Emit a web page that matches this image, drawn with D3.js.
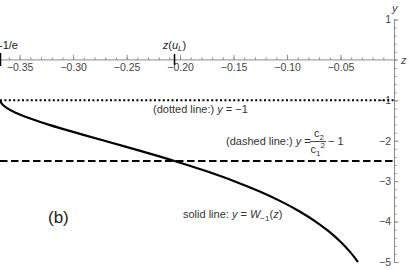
<!DOCTYPE html>
<html>
<head>
<meta charset="utf-8">
<script src="https://cdn.jsdelivr.net/npm/d3@7"></script>
<style>
  body { margin: 0; background: #fff; }
  svg { font-family: "Liberation Sans", Arial, sans-serif; }
  .axis path, .axis line { stroke: #8c8c8c; }
  .axis text { fill: #444; font-size: 10.5px; font-family: "Liberation Sans", Arial, sans-serif; }
  .note { fill: #333; font-size: 11px; }
</style>
</head>
<body>
<div id="chart"></div>
<script>
var width = 409,
    height = 270;

// lower branch W_-1 : points (z, y)
var curveZ = [-0.36788, -0.36780, -0.36744, -0.36616, -0.36143, -0.35429, -0.34524, -0.33470, -0.32304,
  -0.29754, -0.27067, -0.23715, -0.20521, -0.17580, -0.14936, -0.12602, -0.10569, -0.08819,
  -0.07326, -0.06062, -0.04999, -0.04110, -0.03369];
var curveY = [-1, -1.02, -1.05, -1.1, -1.2, -1.3, -1.4, -1.5, -1.6,
  -1.8, -2.0, -2.25, -2.5, -2.75, -3.0, -3.25, -3.5, -3.75,
  -4.0, -4.25, -4.5, -4.75, -5.0];

var xTicks = [-0.35, -0.30, -0.25, -0.20, -0.15, -0.10, -0.05];
var xMinor = d3.range(-36, 0).map(function(i) { return i / 100; });
var yTicks = [1, -1, -2, -3, -4, -5];
var yMinor = d3.range(-25, 6).map(function(i) { return i / 5; });

var zMin = -1 / Math.E;   // branch point
var zUL = -0.2052;        // z(u_L)
var dottedY = -1;
var dashedY = -2.5;       // c2/c1^2 - 1

var svg = d3.select("#chart")
  .append("svg")
  .attr("width", width)
  .attr("height", height);

var xScale = d3.scaleLinear()
  .domain([zMin, 0])
  .range([0.5, 394]);

var yScale = d3.scaleLinear()
  .domain([1, -5])
  .range([19.5, 262]);

//x axis (ticks pointing up, labels below)
svg.append("g")
  .attr("class", "axis")
  .attr("transform", "translate(0," + yScale(0) + ")")
  .call(d3.axisBottom(xScale).tickValues(xMinor).tickSize(-2.5).tickSizeOuter(0).tickFormat(""))
  .call(function(g) { g.select(".domain").remove(); });

svg.append("g")
  .attr("class", "axis")
  .attr("transform", "translate(0," + yScale(0) + ")")
  .call(d3.axisBottom(xScale).tickValues(xTicks).tickSize(-5).tickSizeOuter(0).tickPadding(4)
    .tickFormat(d3.format(".2f")))
  .call(function(g) { g.select(".domain").attr("d", "M0,0H398"); });

//y axis (ticks pointing right, labels left)
svg.append("g")
  .attr("class", "axis")
  .attr("transform", "translate(" + xScale(0) + ",0)")
  .call(d3.axisLeft(yScale).tickValues(yMinor).tickSize(-2.5).tickSizeOuter(0).tickFormat(""))
  .call(function(g) { g.select(".domain").remove(); });

svg.append("g")
  .attr("class", "axis")
  .attr("transform", "translate(" + xScale(0) + ",0)")
  .call(d3.axisLeft(yScale).tickValues(yTicks).tickSize(-4.5).tickSizeOuter(0).tickPadding(3)
    .tickFormat(d3.format("d")));

//axis names
svg.append("text")
  .attr("x", xScale(0) + 7)
  .attr("y", yScale(0) + 4)
  .attr("font-style", "italic")
  .attr("font-size", 11)
  .attr("fill", "#444")
  .text("z");

svg.append("text")
  .attr("x", xScale(0) - 2)
  .attr("y", 12)
  .attr("font-style", "italic")
  .attr("font-size", 11)
  .attr("fill", "#444")
  .text("y");

//special ticks
svg.append("line")
  .attr("x1", xScale(zMin)).attr("x2", xScale(zMin))
  .attr("y1", yScale(0) - 7).attr("y2", yScale(0) + 6)
  .attr("stroke", "#000").attr("stroke-width", 1.5);

svg.append("line")
  .attr("x1", xScale(zUL)).attr("x2", xScale(zUL))
  .attr("y1", yScale(0) - 6).attr("y2", yScale(0) + 5)
  .attr("stroke", "#000").attr("stroke-width", 1.5);

svg.append("text")
  .attr("x", -1)
  .attr("y", yScale(0) - 11)
  .attr("font-size", 11)
  .attr("fill", "#222")
  .text("-1/e");

var zl = svg.append("text")
  .attr("x", xScale(zUL))
  .attr("y", yScale(0) - 11)
  .attr("text-anchor", "middle")
  .attr("font-size", 11)
  .attr("fill", "#222");
zl.append("tspan").attr("font-style", "italic").text("z");
zl.append("tspan").text("(");
zl.append("tspan").attr("font-style", "italic").text("u");
zl.append("tspan").attr("font-style", "italic").attr("font-size", 8).attr("dy", 2).text("L");
zl.append("tspan").attr("dy", -2).text(")");

//horizontal reference lines
svg.append("line")
  .attr("x1", 0).attr("x2", xScale(0))
  .attr("y1", yScale(dottedY)).attr("y2", yScale(dottedY))
  .attr("stroke", "#000").attr("stroke-width", 2)
  .attr("stroke-dasharray", "2,2.4");

svg.append("line")
  .attr("x1", 0).attr("x2", xScale(0))
  .attr("y1", yScale(dashedY)).attr("y2", yScale(dashedY))
  .attr("stroke", "#000").attr("stroke-width", 2)
  .attr("stroke-dasharray", "7.5,3.5");

//solid curve
var points = curveZ.map(function(z, i) { return [z, curveY[i]]; });

var line = d3.line()
  .curve(d3.curveCatmullRom)
  .x(function(d) { return xScale(d[0]); })
  .y(function(d) { return yScale(d[1]); });

svg.append("path")
  .datum(points)
  .attr("d", line)
  .attr("fill", "none")
  .attr("stroke", "#000")
  .attr("stroke-width", 2.2);

//annotations
var t1 = svg.append("text").attr("class", "note").attr("x", 153).attr("y", 113);
t1.append("tspan").text("(dotted line:) ");
t1.append("tspan").attr("font-style", "italic").text("y");
t1.append("tspan").text(" = \u22121");

var t2 = svg.append("text").attr("class", "note").attr("x", 226).attr("y", 145);
t2.append("tspan").text("(dashed line:) ");
t2.append("tspan").attr("font-style", "italic").text("y");
t2.append("tspan").text(" =");

var num = svg.append("text").attr("class", "note").attr("x", 314).attr("y", 137).attr("font-size", 11);
num.append("tspan").text("c");
num.append("tspan").attr("font-size", 8).attr("dy", 2.5).text("2");

svg.append("line")
  .attr("x1", 310).attr("x2", 326)
  .attr("y1", 141.5).attr("y2", 141.5)
  .attr("stroke", "#333").attr("stroke-width", 0.9);

var den = svg.append("text").attr("class", "note").attr("x", 310.5).attr("y", 153);
den.append("tspan").text("c");
den.append("tspan").attr("font-size", 8).attr("dy", 2.5).text("1");
den.append("tspan").attr("font-size", 8).attr("dy", -8).text("2");

svg.append("text").attr("class", "note").attr("x", 328).attr("y", 145).text("\u2212 1");

var t3 = svg.append("text").attr("class", "note").attr("x", 183).attr("y", 218);
t3.append("tspan").text("solid line: ");
t3.append("tspan").attr("font-style", "italic").text("y");
t3.append("tspan").text(" = ");
t3.append("tspan").attr("font-style", "italic").text("W");
t3.append("tspan").attr("font-size", 8).attr("dy", 2.5).text("\u22121");
t3.append("tspan").attr("dy", -2.5).text("(");
t3.append("tspan").attr("font-style", "italic").text("z");
t3.append("tspan").text(")");

svg.append("text")
  .attr("x", 48)
  .attr("y", 223)
  .attr("font-size", 17)
  .attr("fill", "#222")
  .text("(b)");
</script>
</body>
</html>
